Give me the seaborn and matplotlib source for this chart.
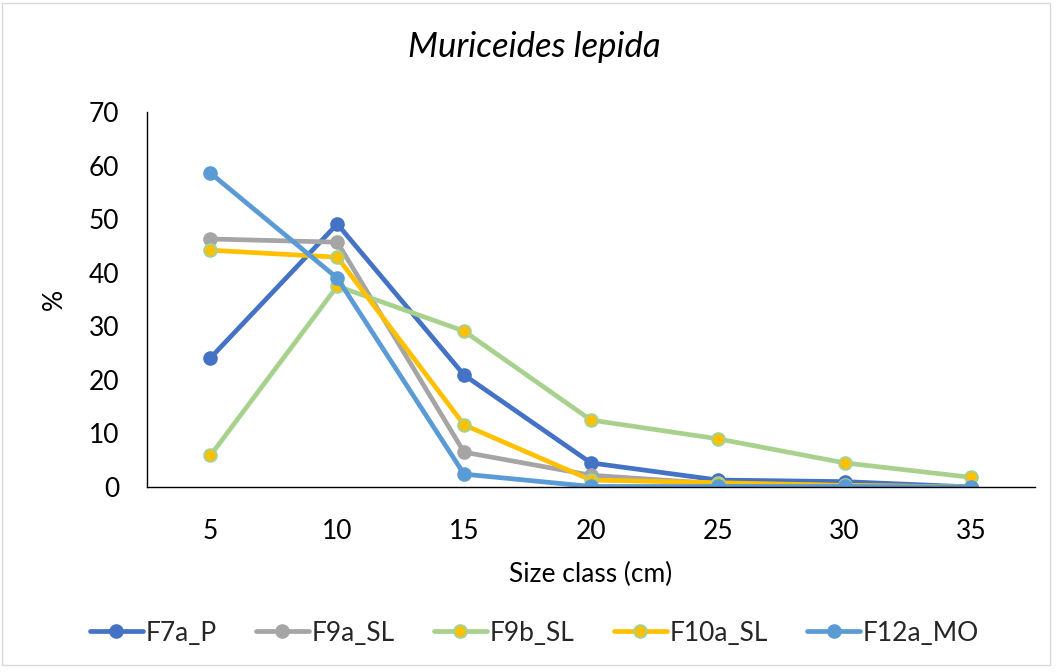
import pandas as pd
import numpy as np
import matplotlib.pyplot as plt
import seaborn as sns
from matplotlib.patches import Rectangle

# ========== Data ==========

size_class = ['5', '10', '15', '20', '25', '30', '35']
f7a_p = [24.1, 49.1, 20.9, 4.5, 1.3, 1.0, 0.0]
f9a_sl = [46.3, 45.7, 6.5, 2.2, 0.6, 0.3, 0.0]
f9b_sl = [5.9, 37.5, 29.1, 12.5, 9.0, 4.5, 1.8]
f10a_sl = [44.2, 42.9, 11.6, 1.3, 0.8, 0.3, 0.0]
f12a_mo = [58.6, 39.0, 2.4, 0.1, 0.1, 0.1, 0.0]

series = ['F7a_P', 'F9a_SL', 'F9b_SL', 'F10a_SL', 'F12a_MO']
values = [f7a_p, f9a_sl, f9b_sl, f10a_sl, f12a_mo]
line_colors = ['#4472C4', '#A5A5A5', '#A9D18E', '#FFC000', '#5B9BD5']
marker_faces = ['#4472C4', '#A5A5A5', '#FFC000', '#FFC000', '#5B9BD5']
marker_edges = ['#4472C4', '#A5A5A5', '#A9D18E', '#A9D18E', '#5B9BD5']

# ========== Plot ==========

sns.set_theme(style='white')
plt.rcParams['font.family'] = ['Lato', 'DejaVu Sans']

fig = plt.figure(figsize=(10.58, 6.72), dpi=100)
ax = fig.add_axes([0.139, 0.2753, 0.839, 0.558])

for name, vals, lc, mf, me in zip(series, values, line_colors, marker_faces, marker_edges):
    df = pd.DataFrame({'size': size_class, 'pct': vals})
    sns.lineplot(data=df, x='size', y='pct', ax=ax, color=lc, linewidth=3.4,
                 marker='o', markersize=9, markerfacecolor=mf,
                 markeredgecolor=me, markeredgewidth=1.5, label=name)

ax.set_xlim(-0.5, len(size_class) - 0.5)
ax.set_ylim(0, 70)
ax.set_yticks(np.arange(0, 71, 10))
ax.set_xticks(np.arange(-0.5, len(size_class), 1), minor=True)
ax.tick_params(axis='x', which='major', length=0, labelsize=19, pad=23, colors='black')
ax.tick_params(axis='x', which='minor', length=6, width=1, color='black', direction='out')
ax.tick_params(axis='y', length=6, width=1, color='black', direction='out', labelsize=19, pad=14)
for t in ax.get_yticklabels() + ax.get_xticklabels():
    t.set_color('black')

sns.despine(ax=ax)
ax.spines['left'].set_color('black')
ax.spines['bottom'].set_color('black')
ax.spines['left'].set_linewidth(1)
ax.spines['bottom'].set_linewidth(1)

ax.set_xlabel('Size class (cm)', fontsize=19, color='black', labelpad=13)
ax.set_ylabel('%', fontsize=19, color='black', labelpad=16)
fig.text(0.505, 0.93, 'Muriceides lepida', fontsize=25, style='italic',
         color='black', ha='center', va='center')

ax.legend_.remove()
handles, labels = ax.get_legend_handles_labels()
fig.legend(handles, labels, loc='center', bbox_to_anchor=(0.505, 0.058), ncol=5,
           frameon=False, fontsize=19, handlelength=2.0, columnspacing=1.5,
           handletextpad=0.1)

fig.patches.append(Rectangle((0.002, 0.01), 0.99, 0.985, transform=fig.transFigure,
                             fill=False, edgecolor='#D9D9D9', linewidth=1))

fig.savefig('out.png', dpi=100)
